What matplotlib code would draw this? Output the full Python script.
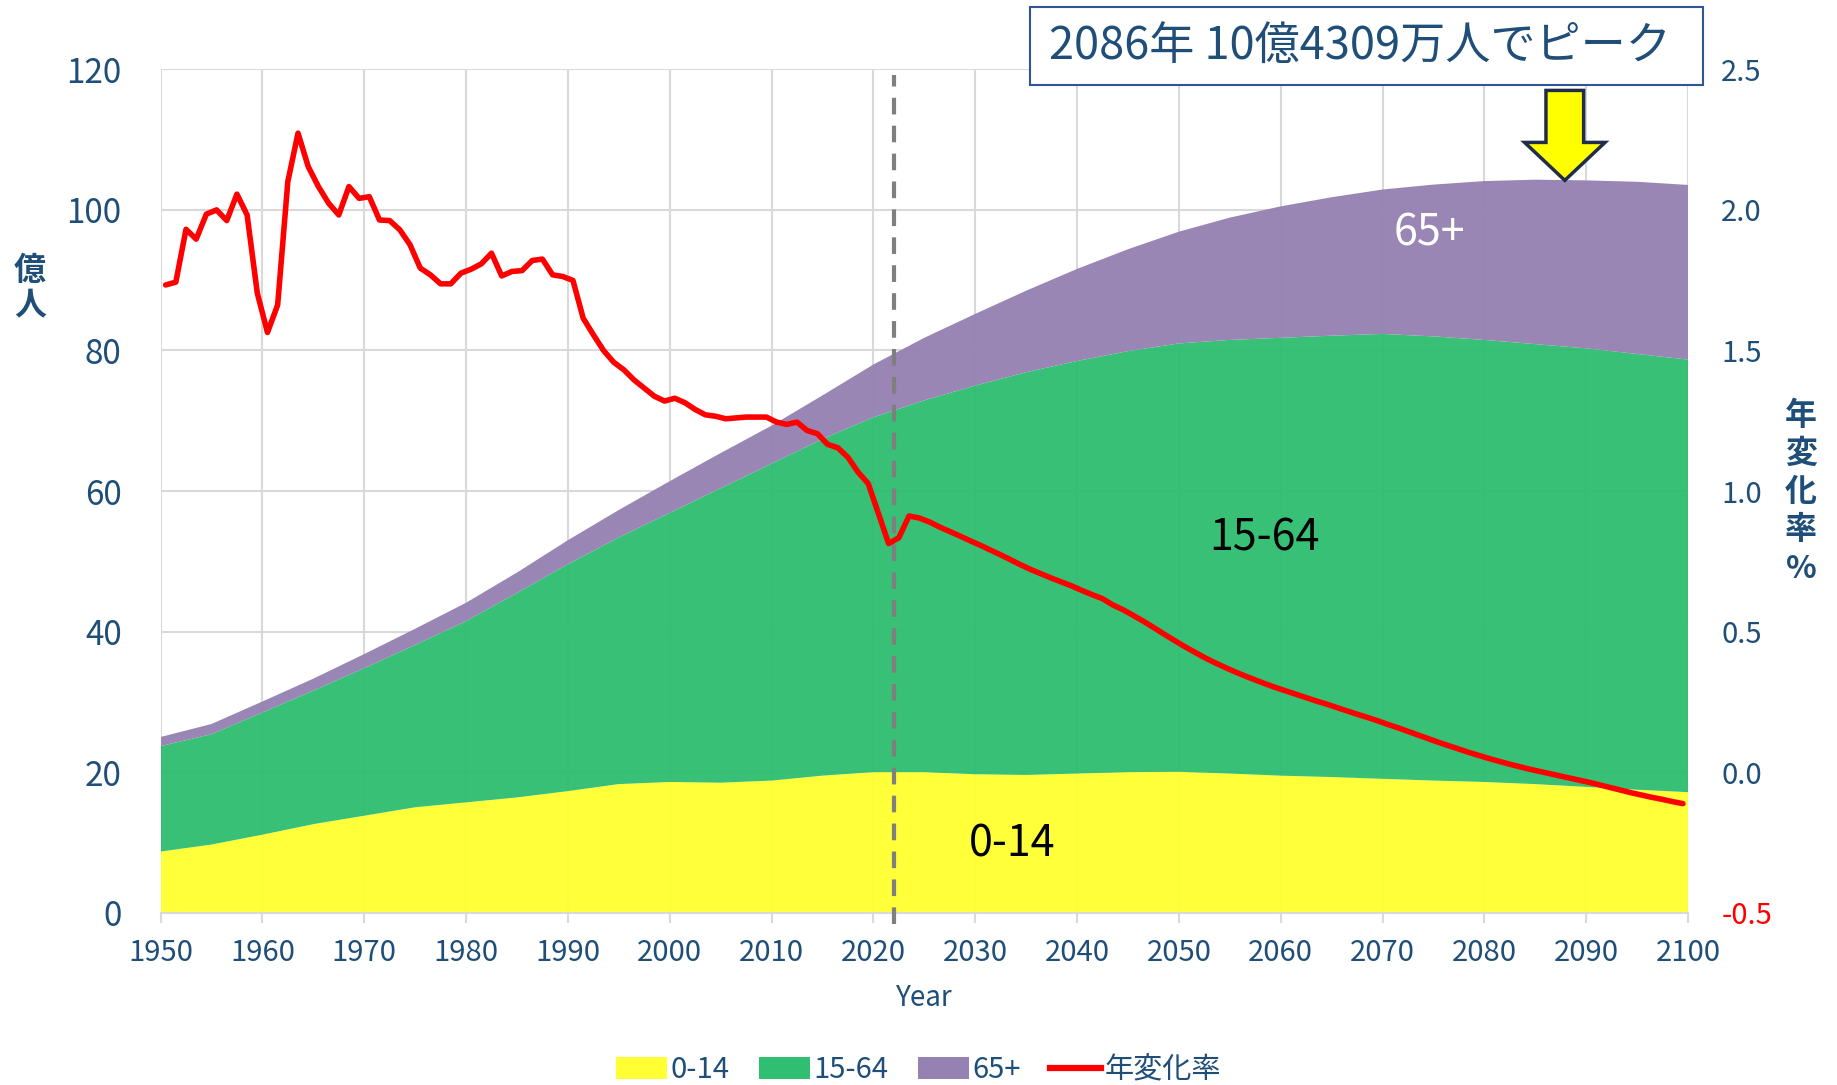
import matplotlib
matplotlib.use("Agg")
import matplotlib.pyplot as plt
from matplotlib.patches import Polygon, Rectangle, Patch
from matplotlib.lines import Line2D
from matplotlib.ticker import FormatStrFormatter
import numpy as np

plt.rcParams['font.family'] = ['Noto Sans CJK JP', 'DejaVu Sans']
plt.rcParams['axes.unicode_minus'] = False

NAVY = '#1F4E79'

# world population by age group (億人), every 5 years
years = list(range(1950, 2101, 5))
pop_0_14 = [8.7, 9.7, 11.1, 12.6, 13.8, 15.0, 15.7, 16.4, 17.3, 18.3,
            18.6, 18.5, 18.8, 19.5, 20.0, 20.0, 19.7, 19.6, 19.8, 20.0,
            20.05, 19.8, 19.5, 19.3, 19.05, 18.8, 18.6, 18.3, 17.9, 17.5, 17.15]
pop_15_64 = [15.0, 15.7, 17.4, 19.0, 21.0, 23.1, 25.8, 29.1, 32.3, 35.1,
             38.3, 41.9, 45.1, 47.9, 50.5, 52.9, 55.3, 57.3, 58.7, 59.9,
             60.95, 61.7, 62.3, 62.8, 63.3, 63.2, 62.9, 62.6, 62.4, 62.0, 61.55]
pop_65 = [1.3, 1.45, 1.55, 1.7, 2.0, 2.3, 2.6, 2.9, 3.4, 3.9,
          4.5, 5.0, 5.4, 6.2, 7.5, 8.9, 10.2, 11.6, 13.1, 14.5,
          15.9, 17.4, 18.7, 19.7, 20.55, 21.6, 22.6, 23.4, 23.9, 24.5, 24.85]

# annual change rate (%), one value per year 1950..2099
rate_years = list(range(1950, 2100))
rate = [1.733, 1.743, 1.931, 1.896, 1.985, 2.000, 1.962, 2.056, 1.982, 1.704,
        1.564, 1.662, 2.101, 2.273, 2.154, 2.083, 2.024, 1.982, 2.083, 2.041,
        2.047, 1.964, 1.962, 1.929, 1.876, 1.793, 1.769, 1.737, 1.737, 1.775,
        1.789, 1.808, 1.846, 1.765, 1.781, 1.784, 1.820, 1.825, 1.769, 1.763,
        1.749, 1.615, 1.556, 1.500, 1.458, 1.431, 1.395, 1.366, 1.337, 1.320,
        1.330, 1.314, 1.290, 1.271, 1.266, 1.257, 1.260, 1.263, 1.263, 1.263,
        1.245, 1.237, 1.245, 1.215, 1.204, 1.166, 1.154, 1.120, 1.067, 1.026,
        0.919, 0.813, 0.834, 0.911, 0.904, 0.890, 0.872, 0.856, 0.840, 0.823,
        0.807, 0.790, 0.773, 0.755, 0.737, 0.720, 0.705, 0.690, 0.676, 0.662,
        0.646, 0.631, 0.617, 0.595, 0.578, 0.558, 0.537, 0.515, 0.492, 0.470,
        0.448, 0.428, 0.408, 0.390, 0.373, 0.357, 0.342, 0.328, 0.314, 0.301,
        0.289, 0.277, 0.265, 0.253, 0.242, 0.230, 0.218, 0.206, 0.195, 0.183,
        0.170, 0.158, 0.145, 0.132, 0.119, 0.106, 0.094, 0.082, 0.070, 0.059,
        0.048, 0.038, 0.028, 0.019, 0.010, 0.002, -0.006, -0.014, -0.022, -0.030,
        -0.038, -0.047, -0.056, -0.065, -0.074, -0.082, -0.090, -0.097, -0.105, -0.112]

group_labels = ['0-14', '15-64', '65+']
group_colors = ['#FFFF33', '#30BE72', '#9682B2']

fig = plt.figure(figsize=(18.37, 10.85), dpi=100)
ax = fig.add_axes([0.0874, 0.1588, 0.8315, 0.7773])

ax.stackplot(years, pop_0_14, pop_15_64, pop_65, colors=group_colors,
             alpha=0.97, linewidth=0, zorder=1)
ax.set_xlim(1950, 2100)
ax.set_ylim(0, 120)
ax.set_xticks(range(1950, 2101, 10))
ax.set_yticks(range(0, 121, 20))
ax.grid(color='#D9D9D9', lw=1.5)
ax.set_axisbelow(True)
for s in ['left', 'right', 'top']:
    ax.spines[s].set_visible(False)
ax.spines['bottom'].set_color('#D9D9D9')
ax.spines['bottom'].set_linewidth(1.5)
ax.tick_params(axis='y', length=0, pad=28, labelsize=24, labelcolor=NAVY)
ax.tick_params(axis='x', length=7, width=1.5, color='#D9D9D9', pad=11,
               labelsize=21, labelcolor=NAVY)
ax.set_xlabel('Year', fontsize=20, color=NAVY, labelpad=11)

ax.axvline(2022, ymin=-0.013, ymax=0.993, color='#7F7F7F', lw=3,
           dashes=(4, 2.7), clip_on=False, zorder=3)

ax.text(2074.6, 96.7, '65+', color='white', fontsize=31, ha='center', va='center')
ax.text(2058.4, 53.3, '15-64', color='black', fontsize=31, ha='center', va='center')
ax.text(2033.6, 9.7, '0-14', color='black', fontsize=31, ha='center', va='center')

# peak arrow
cx, top, base, tip, sw, hw = 2087.9, 117.0, 109.6, 104.2, 1.85, 3.95
arrow = Polygon([(cx - sw, top), (cx + sw, top), (cx + sw, base), (cx + hw, base),
                 (cx, tip), (cx - hw, base), (cx - sw, base)],
                closed=True, fc='#FFFF00', ec='#1F2D4A', lw=2.5, zorder=5,
                clip_on=False, joinstyle='miter')
ax.add_patch(arrow)

ax2 = ax.twinx()
ax2.plot([y + 0.5 for y in rate_years], rate, color='#FF0000', lw=4,
         solid_joinstyle='round', solid_capstyle='round', zorder=4)
ax2.set_ylim(-0.5, 2.5)
ax2.set_yticks(np.arange(-0.5, 2.51, 0.5))
ax2.yaxis.set_major_formatter(FormatStrFormatter('%.1f'))
for s in ax2.spines.values():
    s.set_visible(False)
ax2.tick_params(axis='y', length=0, pad=24, labelsize=21, labelcolor=NAVY)
ax2.get_yticklabels()[0].set_color('#FF0000')

# annotation box
fig.add_artist(Rectangle((1030 / 1837, 1 - 85 / 1085), 673 / 1837, 78 / 1085,
                         transform=fig.transFigure, fc='white', ec='#2F5597', lw=1.5))
fig.text(1360 / 1837, 1 - 47 / 1085, '2086年 10億4309万人でピーク',
         fontsize=32.5, color=NAVY, ha='center', va='center')

fig.text(30 / 1837, 1 - 288 / 1085, '億\n人', fontsize=23, fontweight='bold',
         color=NAVY, ha='center', va='center', linespacing=1.1)
fig.text(1801 / 1837, 1 - 492 / 1085, '年\n変\n化\n率\n%', fontsize=23,
         fontweight='bold', color=NAVY, ha='center', va='center', linespacing=1.25)

handles = [Patch(fc=c, ec='none') for c in group_colors]
handles.append(Line2D([], [], color='#FF0000', lw=4.5))
fig.legend(handles, group_labels + ['年変化率'], loc='center',
           bbox_to_anchor=(0.5, 0.0138), ncol=4, frameon=False, fontsize=21,
           handlelength=1.75, handleheight=0.75, handletextpad=0.12,
           columnspacing=1.0, labelcolor=NAVY)

fig.savefig('out.png', dpi=100)
